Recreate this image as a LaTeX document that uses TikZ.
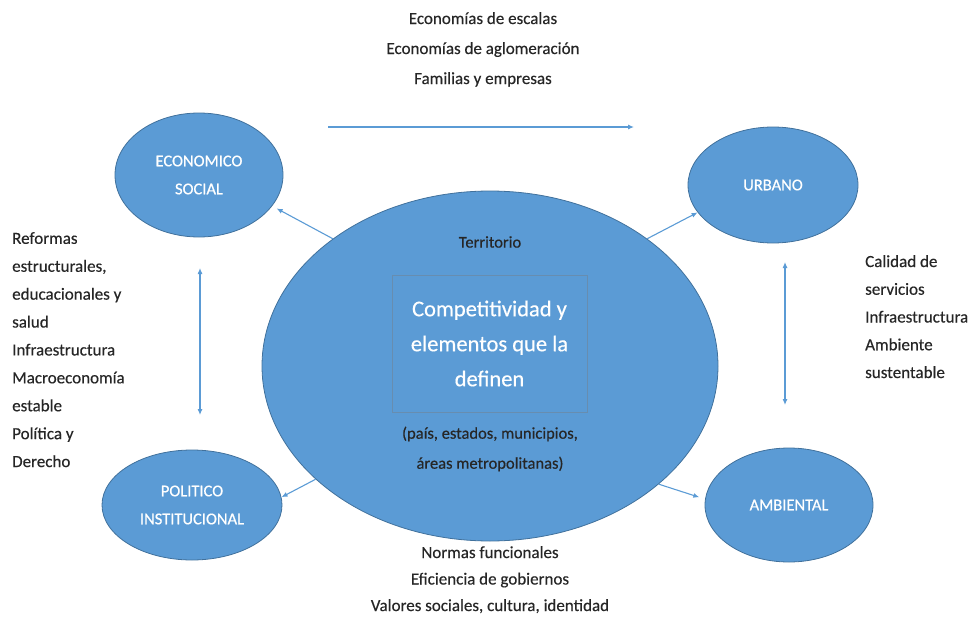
\documentclass[tikz,border=0pt]{standalone}
\usepackage{fontspec}
\setmainfont{Carlito}[FakeBold=0.4]
\newfontfamily\heavyfont{Carlito}[FakeBold=0.6]
\usetikzlibrary{shapes.geometric,arrows.meta}
\definecolor{fillb}{HTML}{5B9BD5}
\definecolor{lineb}{HTML}{41719C}
\definecolor{txt}{HTML}{262626}
\begin{document}
\begin{tikzpicture}[x=1pt,y=-1pt,
  blob/.style={ellipse, fill=fillb, draw=lineb, line width=0.8pt, inner sep=0pt,
    text=white, align=center, font=\fontsize{16.5}{28}\selectfont},
  lbl/.style={text=txt, inner sep=0pt},
  arr/.style={draw=fillb, line width=1.1pt, -{Latex[length=6pt,width=5pt]}},
  darr/.style={draw=fillb, line width=1.1pt, {Latex[length=6pt,width=5pt]}-{Latex[length=6pt,width=5pt]}}]
\useasboundingbox (0,0) rectangle (972,618);

% ellipses
\node[blob, minimum width=456pt, minimum height=350pt] (c) at (490,366) {};
\node[blob, minimum width=168pt, minimum height=124pt] (es) at (199,175) {\heavyfont ECONOMICO\\\heavyfont SOCIAL};
\node[blob, minimum width=170pt, minimum height=116pt] (ur) at (773,185) {\heavyfont URBANO};
\node[blob, minimum width=168pt, minimum height=114pt] (am) at (789,505) {\heavyfont AMBIENTAL};
\node[blob, minimum width=180pt, minimum height=110pt] (pi) at (192,505) {\heavyfont POLITICO\\\heavyfont INSTITUCIONAL};

% central contents
\node[lbl, font=\fontsize{16.5}{20}\selectfont] (ter) at (490,242) {Territorio};
\node[draw=lineb!80, line width=0.6pt, minimum width=195pt, minimum height=137pt, inner sep=0pt,
  text=white, align=center, font=\fontsize{22.5}{35}\selectfont] (box) at (489.5,343.5)
  {Competitividad y\\elementos que la\\definen};
\node[lbl, align=center, font=\fontsize{16.5}{30}\selectfont] (geo) at (490,449)
  {(país, estados, municipios,\\áreas metropolitanas)};

% outside texts
\node[lbl, align=center, anchor=north, font=\fontsize{17}{30}\selectfont] (top) at (483,12)
  {Economías de escalas\\Economías de aglomeración\\Familias y empresas};
\node[lbl, align=center, anchor=north, font=\fontsize{17}{26.5}\selectfont] (bot) at (490,546)
  {Normas funcionales\\Eficiencia de gobiernos\\Valores sociales, cultura, identidad};
\node[lbl, align=left, anchor=north west, font=\fontsize{17}{27.9}\selectfont] (lft) at (12,232)
  {Reformas\\estructurales,\\educacionales y\\salud\\Infraestructura\\Macroeconomía\\estable\\Política y\\Derecho};
\node[lbl, align=left, anchor=north west, font=\fontsize{17}{27.75}\selectfont] (rgt) at (865,255)
  {Calidad de\\servicios\\Infraestructura\\Ambiente\\sustentable};

% connectors
\coordinate (t1) at (328,127);
\coordinate (t2) at (634,127);
\coordinate (l1) at (200,268);
\coordinate (l2) at (200,415);
\coordinate (r1) at (785,262);
\coordinate (r2) at (785,405);
\draw[arr] (t1) -- (t2);
\draw[darr] (l1) -- (l2);
\draw[darr] (r1) -- (r2);
\draw[arr, shorten >=5pt] (c.141) -- (es.-23);
\draw[arr] (c.39) -- (ur.200);
\draw[arr] (c.213) -- (pi.5);
\draw[arr, shorten >=6pt] (c.-35) -- (am.176);
\end{tikzpicture}
\end{document}
